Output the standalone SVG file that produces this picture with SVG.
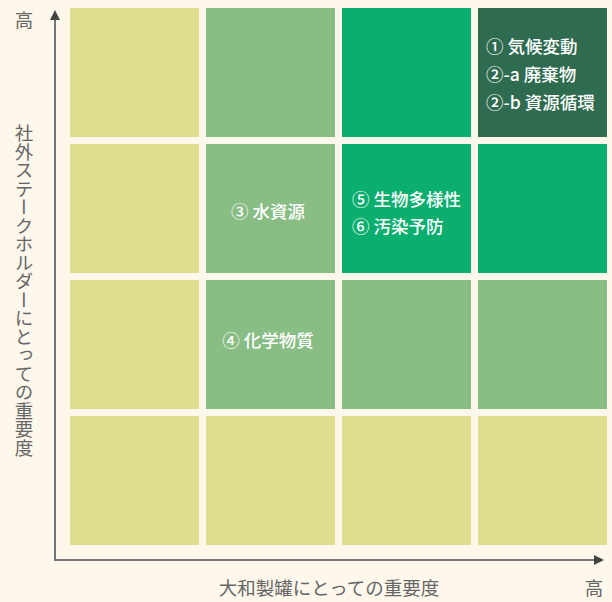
<svg xmlns="http://www.w3.org/2000/svg" width="612" height="602" viewBox="0 0 612 602">
<defs>
<style>
.y{fill:#dfe08f}.m{fill:#88bd84}.b{fill:#0aae6e}.d{fill:#2f6b4f}
.t{fill:#fff;font-family:"Noto Sans CJK JP","Noto Sans",sans-serif;font-size:17.5px;font-weight:500}
.ax{fill:#666;font-family:"Noto Sans CJK JP","Noto Sans",sans-serif;font-size:18.5px}
.axis{stroke:#777;stroke-width:2;fill:none}
</style>
<marker id="ah" markerWidth="10" markerHeight="10" refX="8" refY="5" orient="auto" markerUnits="userSpaceOnUse">
<path d="M0,0 L10,5 L0,10 Z" fill="#444"/>
</marker>
</defs>
<rect width="612" height="602" fill="#fdf7ec"/>
<g id="connectors">
<line class="axis" x1="55" y1="560" x2="55" y2="12" marker-end="url(#ah)"/>
<line class="axis" x1="54" y1="560" x2="602" y2="560" marker-end="url(#ah)"/>
</g>
<g id="r1c1"><rect class="y" x="70" y="8" width="129" height="129"/></g>
<g id="r1c2"><rect class="m" x="206" y="8" width="129" height="129"/></g>
<g id="r1c3"><rect class="b" x="342" y="8" width="129" height="129"/></g>
<g id="r1c4"><rect class="d" x="478" y="8" width="129" height="129"/>
<text class="t" x="486" y="53">① 気候変動</text>
<text class="t" x="486" y="81">②-a 廃棄物</text>
<text class="t" x="486" y="109">②-b 資源循環</text></g>
<g id="r2c1"><rect class="y" x="70" y="144" width="129" height="129"/></g>
<g id="r2c2"><rect class="m" x="206" y="144" width="129" height="129"/>
<text class="t" x="268" y="218" text-anchor="middle">③ 水資源</text></g>
<g id="r2c3"><rect class="b" x="342" y="144" width="129" height="129"/>
<text class="t" x="352" y="206">⑤ 生物多様性</text>
<text class="t" x="352" y="233">⑥ 汚染予防</text></g>
<g id="r2c4"><rect class="b" x="478" y="144" width="129" height="129"/></g>
<g id="r3c1"><rect class="y" x="70" y="280" width="129" height="129"/></g>
<g id="r3c2"><rect class="m" x="206" y="280" width="129" height="129"/>
<text class="t" x="268" y="347" text-anchor="middle">④ 化学物質</text></g>
<g id="r3c3"><rect class="m" x="342" y="280" width="129" height="129"/></g>
<g id="r3c4"><rect class="m" x="478" y="280" width="129" height="129"/></g>
<g id="r4c1"><rect class="y" x="70" y="416" width="129" height="129"/></g>
<g id="r4c2"><rect class="y" x="206" y="416" width="129" height="129"/></g>
<g id="r4c3"><rect class="y" x="342" y="416" width="129" height="129"/></g>
<g id="r4c4"><rect class="y" x="478" y="416" width="129" height="129"/></g>
<g id="labels">
<text class="ax" x="24" y="27" text-anchor="middle">高</text>
<text class="ax" x="24" y="124" writing-mode="vertical-rl" style="writing-mode:vertical-rl">社外ステークホルダーにとっての重要度</text>
<text class="ax" x="329" y="595" text-anchor="middle">大和製罐にとっての重要度</text>
<text class="ax" x="594" y="595" text-anchor="middle">高</text>
</g>
</svg>
